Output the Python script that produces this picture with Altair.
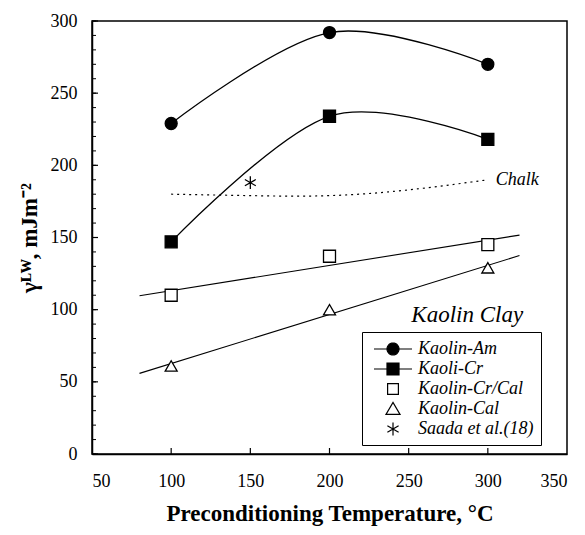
import math
import altair as alt
import pandas as pd

# ---------------- data ----------------
temps = [100, 200, 300]
am_vals = [229, 292, 270]
cr_vals = [147, 234, 218]
crcal_vals = [110, 137, 145]
cal_vals = [61, 100, 129]
saada_t = [150]
saada_vals = [188]
chalk_t = [100, 150, 200, 250, 300]
chalk_vals = [180, 179, 179, 183, 190]
series_names = ["Kaolin-Am", "Kaoli-Cr", "Kaolin-Cr/Cal", "Kaolin-Cal", "Saada et al.(18)"]
x_tick_labels = [50, 100, 150, 200, 250, 300, 350]
y_tick_labels = [0, 50, 100, 150, 200, 250, 300]
y_minor_ticks = list(range(0, 301, 10))
x_inner_ticks = [100, 150, 200, 250, 300]
fit_extent = [80, 320]
chalk_label = ["Chalk"]
chalk_label_pos = [305, 190]
clay_label = ["Kaolin Clay"]
clay_label_pos = [287, 96]

W, H = 475, 433
SERIF = "'Liberation Serif', 'Times New Roman', serif"

rows = []
for name, xs, ys in [
    (series_names[0], temps, am_vals),
    (series_names[1], temps, cr_vals),
    (series_names[2], temps, crcal_vals),
    (series_names[3], temps, cal_vals),
    (series_names[4], saada_t, saada_vals),
]:
    for t, v in zip(xs, ys):
        rows.append({"series": name, "t": t, "v": v})
points = pd.DataFrame(rows)
curves = points[points["series"].isin(series_names[:2])]
fits = points[points["series"].isin(series_names[2:4])]
chalk = pd.DataFrame({"t": chalk_t, "v": chalk_vals})

xscale = alt.Scale(domain=[50, 350], nice=False, zero=False)
yscale = alt.Scale(domain=[0, 300], nice=False, zero=False)
X = alt.X("t:Q", scale=xscale, axis=alt.Axis(values=x_tick_labels, title="Preconditioning Temperature, °C"))
Y = alt.Y("v:Q", scale=yscale, axis=alt.Axis(values=y_tick_labels, title="γᴸᵂ, mJm⁻²"))

# ---------- symbol paths ----------
def poly_circle(cx, r, n=28):
    pts = [(cx + r * math.cos(2 * math.pi * k / n), r * math.sin(2 * math.pi * k / n)) for k in range(n)]
    return "M" + "L".join(f"{a:.3f},{b:.3f}" for a, b in pts) + "Z"

def asterisk(cx, r):
    s = ""
    for ang in (90, 30, 150):
        dx = r * math.cos(math.radians(ang)); dy = r * math.sin(math.radians(ang))
        s += f"M{cx - dx:.3f},{-dy:.3f}L{cx + dx:.3f},{dy:.3f}"
    return s

c = 1.556
hs = 0.667
legend_line = "M-0.556,0L3.667,0"
leg_am = legend_line + poly_circle(c, hs)
leg_cr = legend_line + f"M{c-hs:.3f},{-hs:.3f}L{c+hs:.3f},{-hs:.3f}L{c+hs:.3f},{hs:.3f}L{c-hs:.3f},{hs:.3f}Z"
leg_sq = f"M{c-0.6:.3f},-0.6L{c+0.6:.3f},-0.6L{c+0.6:.3f},0.6L{c-0.6:.3f},0.6Z"
leg_tri = f"M{c-0.78:.3f},0.6L{c+0.78:.3f},0.6L{c:.3f},-0.72Z"
leg_ast = asterisk(c, 0.72)

plot_ast = asterisk(0, 1.05)
fill_range = ["black", "black", "white", "white", "transparent"]
stroke_range = ["black"] * 5

# ---------- layers ----------
curve_layer = alt.Chart(curves).mark_line(interpolate="cardinal", color="black", strokeWidth=1.3).encode(
    x=X, y=Y, detail="series:N")

fit_layer = alt.Chart(fits).transform_regression(
    "t", "v", groupby=["series"], extent=fit_extent
).mark_line(color="black", strokeWidth=1.1).encode(x=X, y=Y, detail="series:N")

chalk_layer = alt.Chart(chalk).mark_line(
    interpolate="natural", color="black", strokeWidth=1.2, strokeDash=[2, 4]
).encode(x=X, y=Y)

chalk_text = alt.Chart(pd.DataFrame({"label": chalk_label, "t": [chalk_label_pos[0]], "v": [chalk_label_pos[1]]})).mark_text(
    align="left", baseline="middle", font=SERIF, fontStyle="italic", fontSize=18, color="black"
).encode(x=X, y=Y, text="label:N")

clay_text = alt.Chart(pd.DataFrame({"label": clay_label, "t": [clay_label_pos[0]], "v": [clay_label_pos[1]]})).mark_text(
    align="center", baseline="middle", font=SERIF, fontStyle="italic", fontSize=23, color="black"
).encode(x=X, y=Y, text="label:N")

point_layer = alt.Chart(points).mark_point(size=144, stroke="black", strokeWidth=1.3, opacity=1).encode(
    x=X, y=Y,
    shape=alt.Shape("series:N", scale=alt.Scale(domain=series_names,
                    range=["circle", "square", "square", "triangle-up", plot_ast]), legend=None),
    fill=alt.Fill("series:N", scale=alt.Scale(domain=series_names, range=fill_range), legend=None),
)

# legend-only layer: no marks drawn (empty after filter), legend built from the explicit domain
leg_props = dict(title=None, orient="none", legendX=270, legendY=311)
legend_layer = alt.Chart(points).transform_filter("datum.v < -1000").mark_point(
    size=324, strokeWidth=1.2, opacity=1
).encode(
    x=X, y=Y,
    shape=alt.Shape("series:N", scale=alt.Scale(domain=series_names,
                    range=[leg_am, leg_cr, leg_sq, leg_tri, leg_ast]), legend=alt.Legend(**leg_props)),
    fill=alt.Fill("series:N", scale=alt.Scale(domain=series_names, range=fill_range), legend=alt.Legend(**leg_props)),
    stroke=alt.Stroke("series:N", scale=alt.Scale(domain=series_names, range=stroke_range), legend=alt.Legend(**leg_props)),
)

y_minor = alt.Chart(pd.DataFrame({"v": y_minor_ticks})).mark_rule(color="black", strokeWidth=1).encode(
    y=Y, x=alt.value(0), x2=alt.value(4))
y_major = alt.Chart(pd.DataFrame({"v": y_tick_labels})).mark_rule(color="black", strokeWidth=1.2).encode(
    y=Y, x=alt.value(0), x2=alt.value(6))
x_major = alt.Chart(pd.DataFrame({"t": x_inner_ticks})).mark_rule(color="black", strokeWidth=1.2).encode(
    x=X, y=alt.value(H), y2=alt.value(H - 6))

chart = alt.layer(
    y_minor, y_major, x_major, chalk_layer, fit_layer, curve_layer,
    legend_layer, point_layer, chalk_text, clay_text
).resolve_scale(shape="independent", fill="independent", stroke="independent").properties(
    width=W, height=H,
    autosize=alt.AutoSizeParams(type="none"),
    padding={"left": 84, "top": 13, "right": 10, "bottom": 73},
).configure_view(
    stroke="black", strokeWidth=1.5
).configure_axis(
    labelFont=SERIF, labelFontSize=18, labelColor="black",
    titleFont=SERIF, titleFontSize=23, titleFontWeight="bold", titleColor="black",
    domainColor="black", domainWidth=1.5, ticks=False, tickSize=0, grid=False,
).configure_axisX(
    labelPadding=18, titlePadding=12,
).configure_axisY(
    labelPadding=15, titlePadding=9,
).configure_legend(
    strokeColor="black", strokeWidth=1, fillColor="white", padding=7, rowPadding=1,
    labelFont=SERIF, labelFontStyle="italic", labelFontSize=18, labelColor="black", labelOffset=29,
    symbolSize=324, symbolStrokeWidth=1.2, symbolStrokeColor="black", symbolOpacity=1,
    labelLimit=250,
)

chart.save("out.html", embed_options={"renderer": "svg", "actions": False})
